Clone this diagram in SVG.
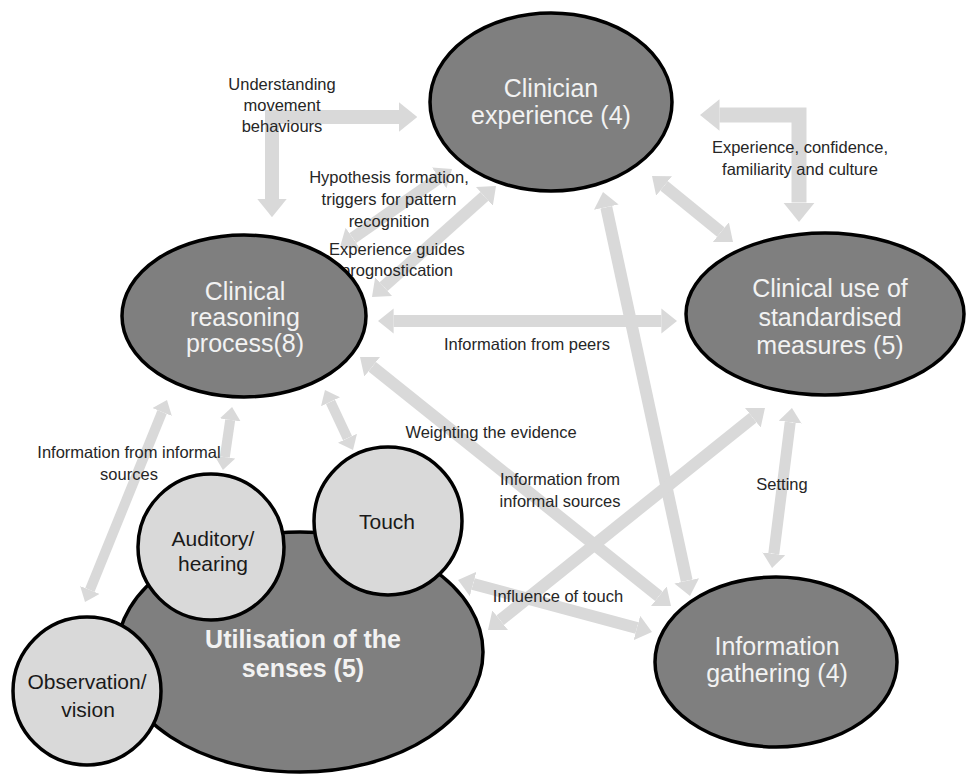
<svg xmlns="http://www.w3.org/2000/svg" width="966" height="775" viewBox="0 0 966 775">
  <style>
    .arrow { fill: none; stroke: #d9d9d9; stroke-linejoin: miter; stroke-linecap: butt; marker-start: url(#head); marker-end: url(#head); }
    .big { fill: #7f7f7f; stroke: #000; stroke-width: 3.5; }
    .small { fill: #d9d9d9; stroke: #000; stroke-width: 3.5; }
    .bigtxt { font-family: "Liberation Sans", Arial, sans-serif; font-size: 25px; fill: #f2f2f2; text-anchor: middle; }
    .smalltxt { font-family: "Liberation Sans", Arial, sans-serif; font-size: 21px; fill: #1a1a1a; text-anchor: middle; }
    .lbl { font-family: "Liberation Sans", Arial, sans-serif; font-size: 16.5px; fill: #262626; text-anchor: middle; }
  </style>
  <defs>
    <marker id="head" viewBox="0 0 1.3 2.1" refX="0" refY="1.05" markerWidth="1.3" markerHeight="2.1" markerUnits="strokeWidth" orient="auto-start-reverse">
      <path d="M0,0 L1.3,1.05 L0,2.1 Z" fill="#d9d9d9"/>
    </marker>
  </defs>

  <rect width="966" height="775" fill="#ffffff"/>

  <!-- connectors: block arrows, every one double-headed -->
  <g id="connectors">
    <path class="arrow" stroke-width="14" d="M399,117 L272,117 L272,199"/>
    <path class="arrow" stroke-width="15" d="M719.5,115 L799,115 L799,202.5"/>
    <path class="arrow" stroke-width="12" d="M352.8,238.1 L439.2,177.9"/>
    <path class="arrow" stroke-width="12" d="M383.6,286.6 L484.4,196.4"/>
    <path class="arrow" stroke-width="12" d="M393.6,321 L661.4,321"/>
    <path class="arrow" stroke-width="12" d="M664.1,185.9 L720.9,232.1"/>
    <path class="arrow" stroke-width="12" d="M606.3,207.2 L686.7,580.8"/>
    <path class="arrow" stroke-width="12" d="M372.2,366.75 L658.8,596.25"/>
    <path class="arrow" stroke-width="12" d="M752.8,417.75 L500.2,620.25"/>
    <path class="arrow" stroke-width="11" d="M790.2,422.2 L773.8,553.8"/>
    <path class="arrow" stroke-width="12" d="M473.1,584 L636.9,628"/>
    <path class="arrow" stroke-width="10" d="M162.1,412 L89.9,590"/>
    <path class="arrow" stroke-width="10" d="M230.2,419.9 L224.8,457.1"/>
    <path class="arrow" stroke-width="10" d="M330.5,401.8 L347.5,438.2"/>
  </g>

  <!-- connector labels -->
  <g id="labels">
    <text class="lbl" x="282" y="90">Understanding</text>
    <text class="lbl" x="282" y="111">movement</text>
    <text class="lbl" x="282" y="132">behaviours</text>
    <text class="lbl" x="389" y="183">Hypothesis formation,</text>
    <text class="lbl" x="389" y="205">triggers for pattern</text>
    <text class="lbl" x="389" y="227">recognition</text>
    <text class="lbl" x="397" y="255" text-anchor="start">Experience guides</text>
    <text class="lbl" x="397" y="276" text-anchor="start">prognostication</text>
    <text class="lbl" x="800" y="153">Experience, confidence,</text>
    <text class="lbl" x="800" y="175">familiarity and culture</text>
    <text class="lbl" x="527" y="350">Information from peers</text>
    <text class="lbl" x="491" y="438">Weighting the evidence</text>
    <text class="lbl" x="129" y="458">Information from informal</text>
    <text class="lbl" x="129" y="480">sources</text>
    <text class="lbl" x="560" y="485">Information from</text>
    <text class="lbl" x="560" y="507">informal sources</text>
    <text class="lbl" x="782" y="490">Setting</text>
    <text class="lbl" x="558" y="602">Influence of touch</text>
  </g>

  <g id="clinician-experience">
    <ellipse class="big" cx="551" cy="102" rx="121" ry="89"/>
    <text class="bigtxt" x="551" y="97">Clinician</text>
    <text class="bigtxt" x="551" y="124">experience (4)</text>
  </g>

  <g id="clinical-reasoning">
    <ellipse class="big" cx="244" cy="316" rx="122" ry="81"/>
    <text class="bigtxt" x="245" y="300" font-size="23">Clinical</text>
    <text class="bigtxt" x="245" y="326" font-size="23">reasoning</text>
    <text class="bigtxt" x="245" y="352" font-size="23">process(8)</text>
  </g>

  <g id="standardised-measures">
    <ellipse class="big" cx="825" cy="314" rx="139" ry="81"/>
    <text class="bigtxt" x="830" y="297">Clinical use of</text>
    <text class="bigtxt" x="830" y="326">standardised</text>
    <text class="bigtxt" x="830" y="354">measures (5)</text>
  </g>

  <g id="information-gathering">
    <ellipse class="big" cx="776" cy="662" rx="121" ry="85"/>
    <text class="bigtxt" x="777" y="655">Information</text>
    <text class="bigtxt" x="777" y="682">gathering (4)</text>
  </g>

  <g id="utilisation-of-senses">
    <ellipse class="big" cx="300" cy="652" rx="183" ry="120"/>
    <text class="bigtxt" x="303" y="648" font-weight="bold" font-size="24">Utilisation of the</text>
    <text class="bigtxt" x="303" y="677" font-weight="bold" font-size="24">senses (5)</text>
  </g>

  <g id="auditory-hearing">
    <circle class="small" cx="211" cy="547" r="73"/>
    <text class="smalltxt" x="213" y="546">Auditory/</text>
    <text class="smalltxt" x="213" y="571">hearing</text>
  </g>

  <g id="touch">
    <circle class="small" cx="388" cy="521" r="74"/>
    <text class="smalltxt" x="387" y="529">Touch</text>
  </g>

  <g id="observation-vision">
    <circle class="small" cx="87" cy="691" r="74"/>
    <text class="smalltxt" x="87" y="689">Observation/</text>
    <text class="smalltxt" x="88" y="717">vision</text>
  </g>
</svg>
